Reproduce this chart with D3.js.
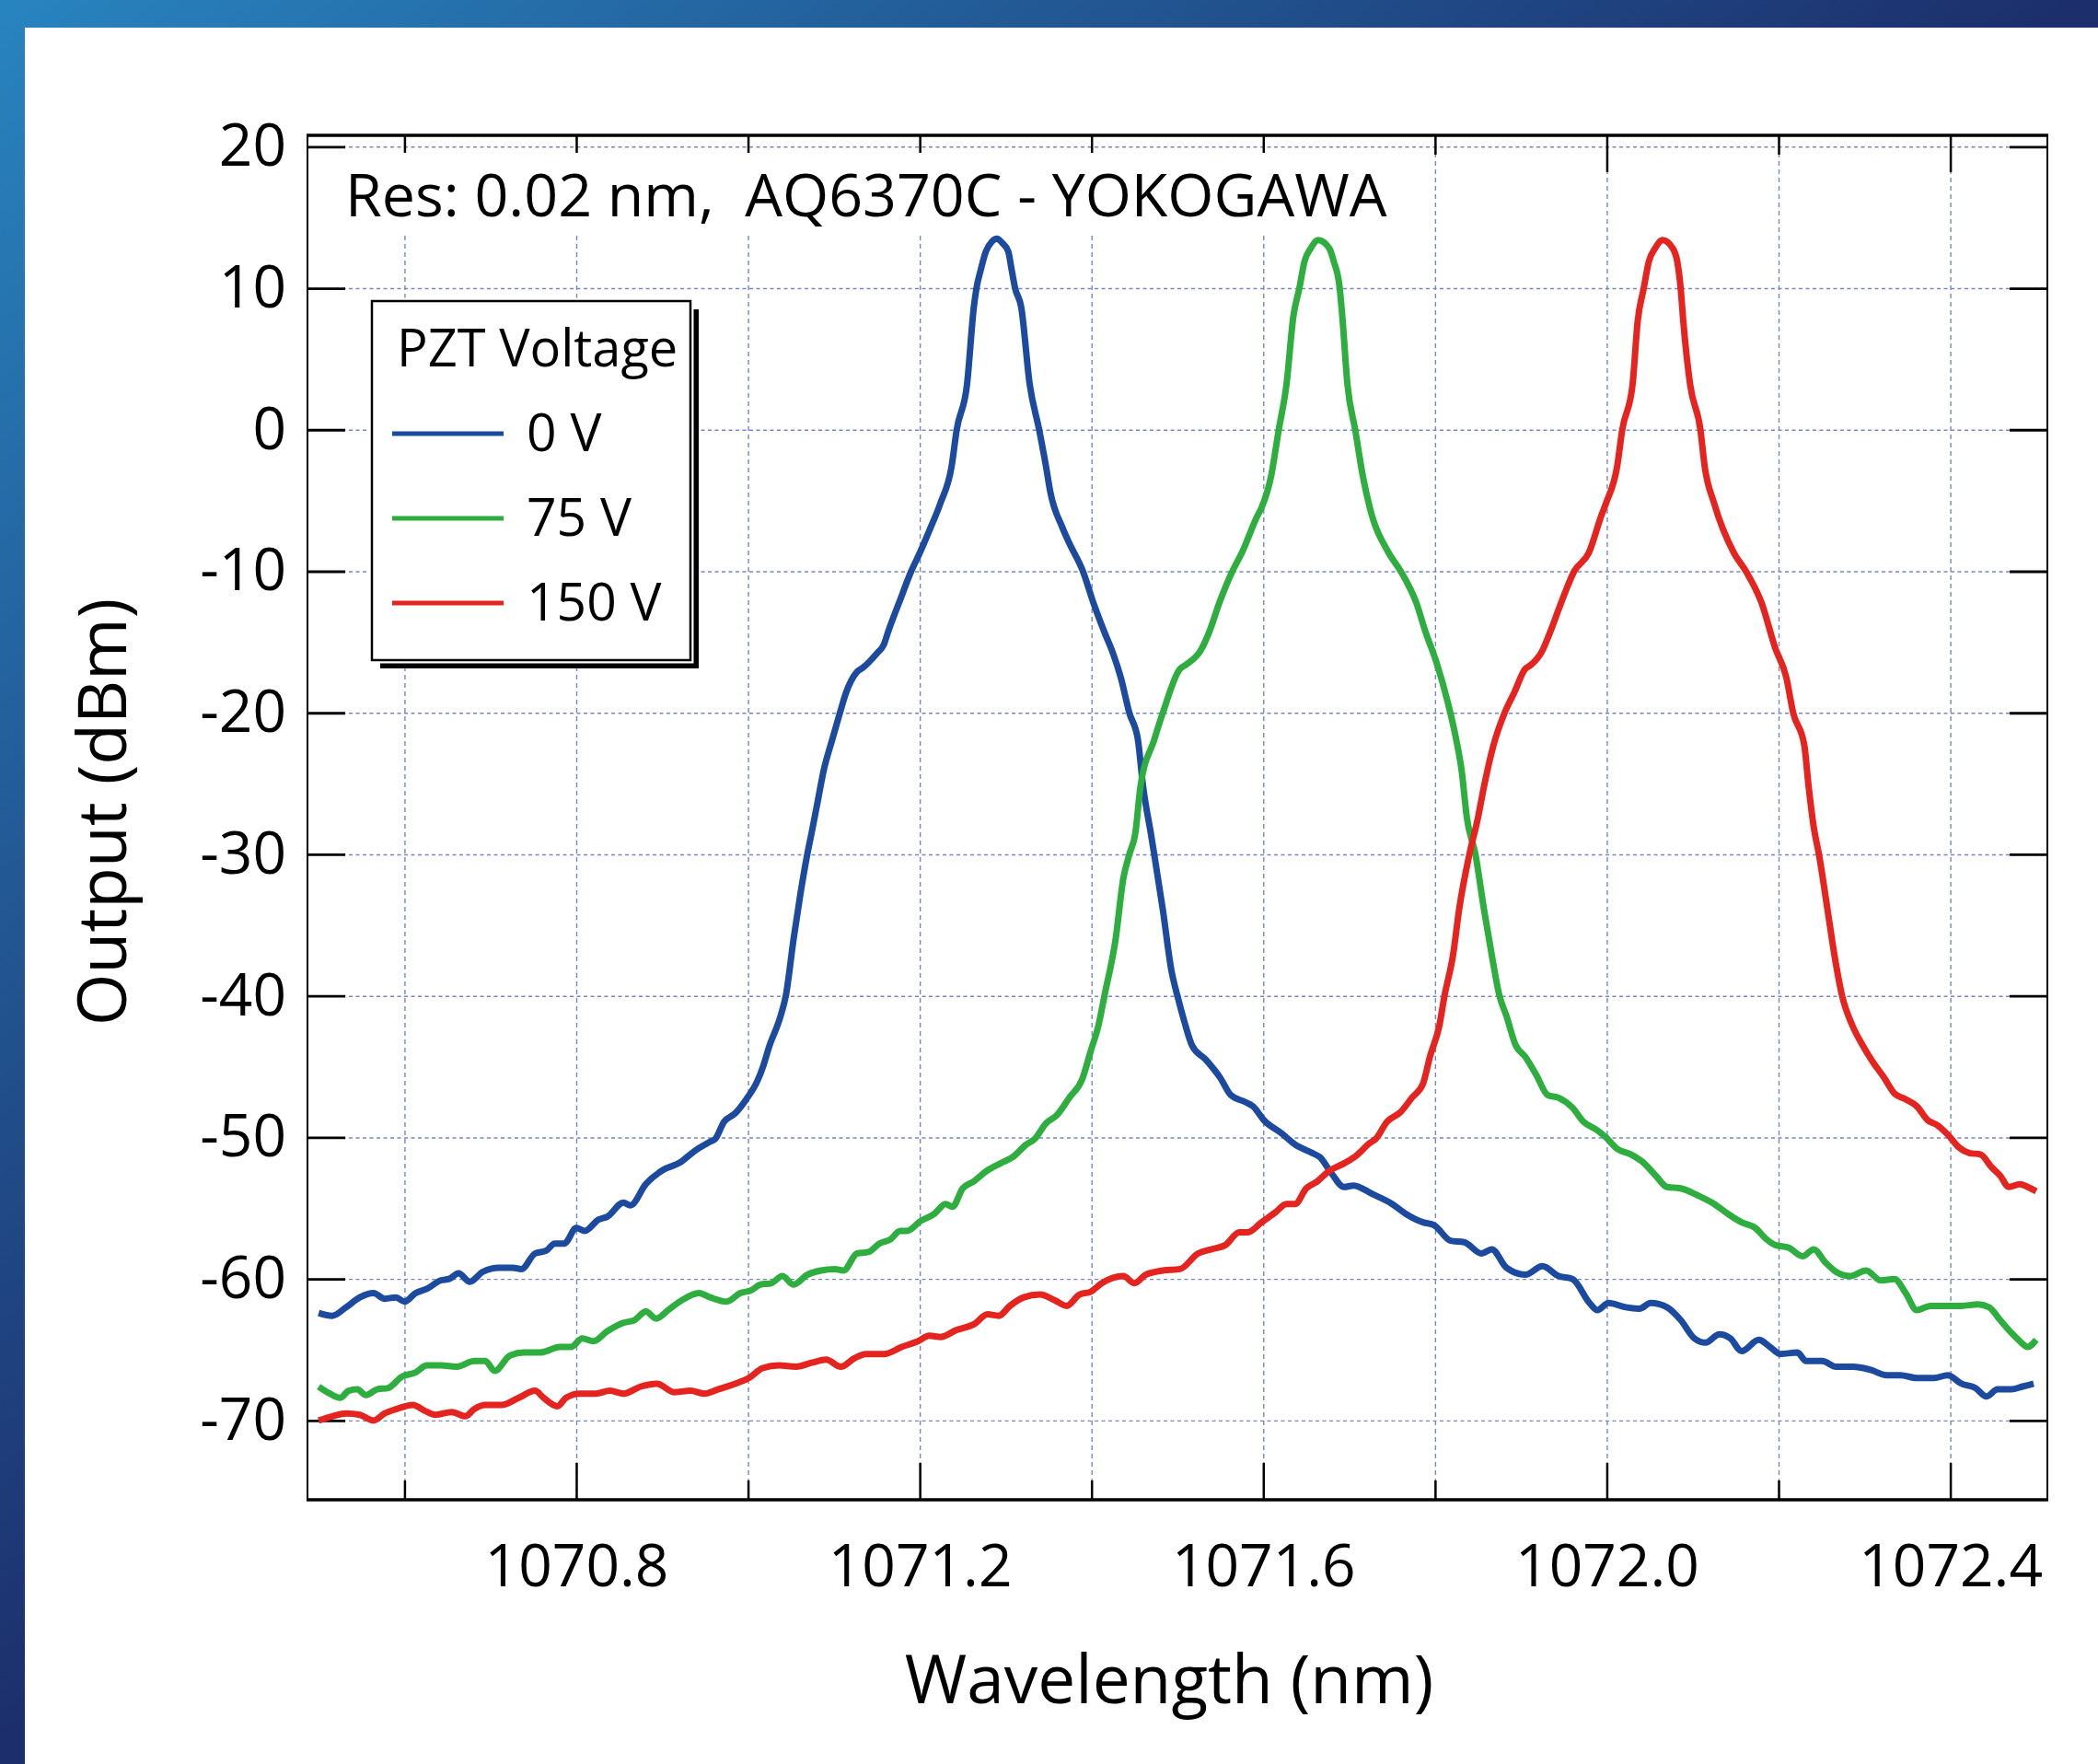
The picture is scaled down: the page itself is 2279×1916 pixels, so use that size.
<!DOCTYPE html>
<html>
<head>
<meta charset="utf-8">
<script src="https://cdn.jsdelivr.net/npm/d3@7"></script>
<style>
  body { margin: 0; background: #fff; }
  text { font-family: "Open Sans", "Noto Sans", sans-serif; fill: #000; }
</style>
</head>
<body>
<script>
// Spectra: wavelength (nm) and output (dBm)
var wl0V = [1070.500,1070.516,1070.532,1070.548,1070.564,1070.577,1070.590,1070.600,1070.613,1070.626,
  1070.642,1070.652,1070.663,1070.676,1070.691,1070.710,1070.726,1070.736,1070.752,1070.765,
  1070.775,1070.786,1070.800,1070.810,1070.826,1070.836,1070.855,1070.863,1070.881,1070.901,
  1070.920,1070.939,1070.956,1070.962,1070.972,1070.985,1070.998,1071.011,1071.018,1071.024,
  1071.038,1071.044,1071.053,1071.061,1071.069,1071.074,1071.081,1071.088,1071.098,1071.107,
  1071.114,1071.127,1071.134,1071.150,1071.158,1071.163,1071.176,1071.190,1071.200,1071.212,
  1071.224,1071.237,1071.243,1071.255,1071.263,1071.266,1071.271,1071.277,1071.284,1071.290,
  1071.296,1071.303,1071.307,1071.311,1071.318,1071.328,1071.339,1071.347,1071.352,1071.366,
  1071.374,1071.390,1071.402,1071.415,1071.425,1071.434,1071.444,1071.454,1071.460,1071.469,
  1071.473,1071.483,1071.493,1071.500,1071.508,1071.517,1071.533,1071.550,1071.562,1071.579,
  1071.588,1071.601,1071.621,1071.637,1071.657,1071.666,1071.679,1071.694,1071.705,1071.727,
  1071.750,1071.766,1071.786,1071.799,1071.818,1071.834,1071.854,1071.866,1071.883,1071.905,
  1071.925,1071.944,1071.960,1071.980,1071.989,1072.002,1072.022,1072.038,1072.051,1072.070,
  1072.086,1072.102,1072.115,1072.131,1072.144,1072.157,1072.177,1072.190,1072.202,1072.222,
  1072.232,1072.251,1072.267,1072.287,1072.306,1072.326,1072.342,1072.361,1072.381,1072.397,
  1072.413,1072.429,1072.442,1072.455,1072.471,1072.484,1072.497];
var dbm0V = [-62.4,-62.6,-62.0,-61.3,-61.0,-61.4,-61.3,-61.6,-61.0,-60.7,
  -60.1,-60.0,-59.6,-60.2,-59.5,-59.2,-59.2,-59.3,-58.2,-58.0,
  -57.5,-57.5,-56.4,-56.6,-55.8,-55.6,-54.6,-54.8,-53.3,-52.3,
  -51.8,-50.9,-50.3,-50.1,-48.9,-48.3,-47.3,-46.0,-44.9,-43.7,
  -41.4,-40.0,-36.0,-32.8,-30.0,-28.5,-26.3,-24.1,-21.9,-20.0,
  -18.6,-17.1,-16.8,-15.8,-15.2,-14.3,-12.2,-10.0,-8.7,-7.0,
  -5.2,-2.6,0.0,3.2,8.7,10.0,11.3,12.6,13.3,13.5,
  13.2,12.6,11.3,10.0,8.7,3.2,0.0,-2.6,-4.4,-6.9,
  -8.0,-10.0,-12.2,-14.3,-15.8,-17.5,-20.0,-21.9,-25.2,-28.5,
  -30.0,-33.9,-38.2,-40.0,-41.8,-43.5,-44.5,-45.8,-47.0,-47.5,
  -47.8,-48.8,-49.7,-50.5,-51.1,-51.4,-52.5,-53.5,-53.4,-54.0,
  -54.7,-55.4,-56.0,-56.2,-57.3,-57.4,-58.2,-57.9,-59.2,-59.7,
  -59.1,-59.8,-60.0,-61.7,-62.2,-61.7,-62.0,-62.1,-61.7,-62.0,
  -62.9,-64.2,-64.5,-63.9,-64.2,-65.1,-64.3,-64.8,-65.3,-65.2,
  -65.8,-65.8,-66.2,-66.2,-66.4,-66.8,-66.8,-67.0,-67.0,-66.8,
  -67.4,-67.7,-68.3,-67.8,-67.8,-67.6,-67.4];

var wl75V = [1070.500,1070.513,1070.525,1070.535,1070.545,1070.555,1070.568,1070.581,1070.597,1070.613,
  1070.626,1070.642,1070.661,1070.681,1070.694,1070.705,1070.723,1070.739,1070.758,1070.781,
  1070.794,1070.807,1070.820,1070.836,1070.855,1070.868,1070.881,1070.893,1070.907,1070.923,
  1070.943,1070.956,1070.975,1070.991,1071.004,1071.014,1071.027,1071.040,1071.053,1071.069,
  1071.085,1071.101,1071.111,1071.127,1071.140,1071.153,1071.166,1071.177,1071.185,1071.201,
  1071.217,1071.230,1071.238,1071.250,1071.263,1071.277,1071.295,1071.308,1071.324,1071.334,
  1071.347,1071.360,1071.374,1071.389,1071.399,1071.408,1071.415,1071.428,1071.437,1071.444,
  1071.451,1071.457,1071.473,1071.483,1071.503,1071.510,1071.527,1071.537,1071.549,1071.564,
  1071.575,1071.593,1071.598,1071.609,1071.618,1071.627,1071.635,1071.642,1071.648,1071.655,
  1071.664,1071.677,1071.682,1071.689,1071.692,1071.698,1071.707,1071.716,1071.724,1071.746,
  1071.760,1071.778,1071.789,1071.802,1071.815,1071.824,1071.831,1071.837,1071.847,1071.857,
  1071.866,1071.875,1071.883,1071.894,1071.905,1071.918,1071.931,1071.944,1071.960,1071.973,
  1071.989,1071.999,1072.012,1072.028,1072.041,1072.057,1072.070,1072.086,1072.106,1072.125,
  1072.141,1072.157,1072.173,1072.186,1072.196,1072.212,1072.228,1072.241,1072.254,1072.267,
  1072.283,1072.302,1072.319,1072.335,1072.348,1072.361,1072.377,1072.393,1072.413,1072.432,
  1072.445,1072.458,1072.471,1072.481,1072.490,1072.500];
var dbm75V = [-67.6,-68.1,-68.4,-67.9,-67.8,-68.2,-67.8,-67.7,-66.9,-66.6,
  -66.1,-66.1,-66.2,-65.8,-65.8,-66.5,-65.4,-65.2,-65.2,-64.8,
  -64.8,-64.2,-64.4,-63.7,-63.1,-62.9,-62.3,-62.8,-62.2,-61.5,
  -61.0,-61.3,-61.6,-61.0,-60.8,-60.4,-60.3,-59.8,-60.4,-59.7,
  -59.4,-59.3,-59.4,-58.2,-58.1,-57.5,-57.2,-56.6,-56.6,-55.9,
  -55.4,-54.7,-54.9,-53.6,-53.1,-52.4,-51.8,-51.4,-50.5,-50.1,
  -49.0,-48.4,-47.2,-45.9,-43.9,-42.1,-40.0,-36.0,-31.7,-30.0,
  -28.5,-25.2,-21.9,-20.0,-16.9,-16.6,-15.6,-14.3,-12.2,-10.0,
  -8.7,-6.1,-5.5,-3.3,0.0,3.2,8.0,10.0,11.9,12.8,
  13.4,12.8,11.9,10.0,8.0,3.2,0.0,-3.3,-5.5,-8.7,
  -10.0,-12.2,-14.3,-16.5,-19.3,-21.7,-24.1,-27.4,-30.0,-33.9,
  -37.1,-40.0,-41.4,-43.5,-44.3,-45.6,-47.0,-47.2,-47.9,-48.9,
  -49.5,-50.0,-50.8,-51.2,-51.7,-52.7,-53.5,-53.6,-54.1,-54.7,
  -55.4,-56.0,-56.4,-57.2,-57.6,-57.8,-58.4,-57.9,-58.8,-59.5,
  -59.8,-59.4,-60.1,-60.0,-61.0,-62.2,-61.9,-61.9,-61.9,-61.8,
  -62.0,-62.9,-63.8,-64.4,-64.8,-64.3];

var wl150V = [1070.500,1070.516,1070.532,1070.548,1070.564,1070.577,1070.590,1070.610,1070.623,1070.636,
  1070.655,1070.671,1070.681,1070.694,1070.713,1070.733,1070.752,1070.762,1070.778,1070.788,
  1070.804,1070.823,1070.839,1070.855,1070.875,1070.894,1070.914,1070.933,1070.949,1070.965,
  1070.985,1071.001,1071.017,1071.036,1071.056,1071.075,1071.091,1071.108,1071.124,1071.137,
  1071.159,1071.179,1071.198,1071.211,1071.224,1071.243,1071.263,1071.279,1071.292,1071.305,
  1071.321,1071.340,1071.357,1071.371,1071.386,1071.399,1071.412,1071.437,1071.450,1071.463,
  1071.483,1071.503,1071.524,1071.540,1071.556,1071.572,1071.582,1071.598,1071.614,1071.627,
  1071.637,1071.650,1071.663,1071.676,1071.695,1071.708,1071.724,1071.731,1071.744,1071.760,
  1071.773,1071.786,1071.794,1071.805,1071.811,1071.821,1071.828,1071.840,1071.850,1071.857,
  1071.868,1071.881,1071.892,1071.905,1071.912,1071.925,1071.934,1071.947,1071.962,1071.979,
  1071.994,1071.999,1072.012,1072.018,1072.030,1072.036,1072.043,1072.049,1072.056,1072.065,
  1072.077,1072.082,1072.086,1072.089,1072.097,1072.109,1072.114,1072.125,1072.148,1072.162,
  1072.180,1072.196,1072.209,1072.217,1072.230,1072.235,1072.241,1072.247,1072.257,1072.265,
  1072.274,1072.286,1072.298,1072.309,1072.322,1072.335,1072.348,1072.361,1072.374,1072.384,
  1072.397,1072.410,1072.422,1072.435,1072.448,1072.458,1072.468,1072.481,1072.490,1072.500];
var dbm150V = [-70.0,-69.7,-69.5,-69.6,-70.0,-69.5,-69.2,-68.9,-69.3,-69.6,
  -69.4,-69.7,-69.2,-68.9,-68.9,-68.4,-67.9,-68.4,-69.0,-68.4,
  -68.1,-68.1,-67.9,-68.1,-67.6,-67.4,-68.0,-67.9,-68.1,-67.8,
  -67.4,-67.0,-66.3,-66.1,-66.2,-65.9,-65.7,-66.2,-65.6,-65.3,
  -65.3,-64.8,-64.4,-64.0,-64.1,-63.6,-63.2,-62.5,-62.6,-61.9,
  -61.3,-61.1,-61.5,-61.9,-61.1,-60.9,-60.3,-59.8,-60.3,-59.7,
  -59.4,-59.3,-58.2,-57.9,-57.6,-56.7,-56.7,-56.0,-55.3,-54.7,
  -54.7,-53.6,-53.1,-52.4,-51.8,-51.3,-50.4,-50.1,-48.9,-48.2,
  -47.2,-46.2,-44.3,-42.1,-40.0,-37.1,-33.9,-30.0,-27.4,-25.2,
  -22.3,-20.0,-18.6,-16.9,-16.6,-15.6,-14.3,-12.2,-10.0,-8.7,
  -6.0,-5.2,-2.6,0.0,3.2,7.7,10.0,11.9,12.8,13.4,
  12.8,11.9,10.0,7.7,3.2,0.0,-2.6,-5.2,-8.7,-10.0,
  -12.2,-15.4,-17.5,-20.0,-22.3,-25.2,-28.1,-30.0,-33.9,-37.1,
  -40.0,-42.1,-43.5,-44.6,-45.7,-46.9,-47.3,-47.8,-48.8,-49.1,
  -49.8,-50.7,-51.1,-51.2,-52.1,-52.7,-53.5,-53.3,-53.5,-53.8];

var seriesLabels = ['0 V', '75 V', '150 V'];
var yTickValues = [20, 10, 0, -10, -20, -30, -40, -50, -60, -70];
var xLabelTicks = [1070.8, 1071.2, 1071.6, 1072.0, 1072.4];
var xMinorTicks = [1070.6, 1071.0, 1071.4, 1071.8, 1072.2];
var xGridValues = [1070.6, 1070.8, 1071.0, 1071.2, 1071.4, 1071.6, 1071.8, 1072.0, 1072.2, 1072.4];

var colors = ['#1b4a9e', '#2eae3e', '#e5241f'];
var width = 2279, height = 1916;
var plot = { left: 334, right: 2224, top: 147, bottom: 1629 };

var svg = d3.select('body')
  .append('svg')
  .attr('width', width)
  .attr('height', height);

// blue edge band (top and left)
var grad = svg.append('defs').append('linearGradient')
  .attr('id', 'edge')
  .attr('x1', 0).attr('y1', 0).attr('x2', 0.5).attr('y2', 0.5);
grad.append('stop').attr('offset', '0%').attr('stop-color', '#2884bf');
grad.append('stop').attr('offset', '100%').attr('stop-color', '#1c2e6b');
svg.append('rect').attr('width', width).attr('height', height).attr('fill', 'url(#edge)');
svg.append('rect').attr('x', 27).attr('y', 30)
  .attr('width', width - 27).attr('height', height - 30).attr('fill', '#fff');

var x = d3.scaleLinear().domain([1070.487, 1072.513]).range([plot.left, plot.right]);
var y = d3.scaleLinear().domain([-75.6, 20.8]).range([plot.bottom, plot.top]);

// grid
svg.append('g')
  .attr('transform', 'translate(0,' + plot.bottom + ')')
  .call(d3.axisBottom(x).tickValues(xGridValues).tickSize(-(plot.bottom - plot.top)).tickFormat(''))
  .call(function(g) { g.select('.domain').remove(); })
  .selectAll('line')
  .attr('stroke', '#7886c9')
  .attr('stroke-width', 1.4)
  .attr('stroke-dasharray', '5,4');

svg.append('g')
  .attr('transform', 'translate(' + plot.left + ',0)')
  .call(d3.axisLeft(y).tickValues(yTickValues).tickSize(-(plot.right - plot.left)).tickFormat(''))
  .call(function(g) { g.select('.domain').remove(); })
  .selectAll('line')
  .attr('stroke', '#7886c9')
  .attr('stroke-width', 1.4)
  .attr('stroke-dasharray', '4,3.5');

// tick marks and labels
function tickGroup(axis, tx, ty, w) {
  var g = svg.append('g')
    .attr('transform', 'translate(' + tx + ',' + ty + ')')
    .call(axis);
  g.select('.domain').remove();
  g.selectAll('line').attr('stroke', '#000').attr('stroke-width', w);
  g.selectAll('text').attr('font-size', 64).attr('font-family', '"Open Sans", sans-serif').attr('fill', '#000');
  return g;
}

tickGroup(d3.axisBottom(x).tickValues(xLabelTicks).tickSizeInner(-40).tickSizeOuter(0)
  .tickPadding(49).tickFormat(d3.format('.1f')), 0, plot.bottom, 2.5);
tickGroup(d3.axisBottom(x).tickValues(xMinorTicks).tickSizeInner(-21).tickSizeOuter(0)
  .tickFormat(''), 0, plot.bottom, 2.5);
tickGroup(d3.axisTop(x).tickValues(xLabelTicks).tickSizeInner(-40).tickSizeOuter(0)
  .tickFormat(''), 0, plot.top, 2.5);
tickGroup(d3.axisTop(x).tickValues(xMinorTicks).tickSizeInner(-21).tickSizeOuter(0)
  .tickFormat(''), 0, plot.top, 2.5);
tickGroup(d3.axisLeft(y).tickValues(yTickValues).tickSizeInner(-41).tickSizeOuter(0)
  .tickPadding(23).tickFormat(function(d) { return String(d); }), plot.left, 0, 2.8);
tickGroup(d3.axisRight(y).tickValues(yTickValues).tickSizeInner(-41).tickSizeOuter(0)
  .tickFormat(''), plot.right, 0, 2.8);

// frame: heavier top and bottom
svg.append('line').attr('x1', plot.left).attr('x2', plot.left)
  .attr('y1', plot.top).attr('y2', plot.bottom).attr('stroke', '#000').attr('stroke-width', 2);
svg.append('line').attr('x1', plot.right).attr('x2', plot.right)
  .attr('y1', plot.top).attr('y2', plot.bottom).attr('stroke', '#000').attr('stroke-width', 2);
svg.append('line').attr('x1', plot.left - 1).attr('x2', plot.right + 1)
  .attr('y1', plot.top).attr('y2', plot.top).attr('stroke', '#000').attr('stroke-width', 3.5);
svg.append('line').attr('x1', plot.left - 1).attr('x2', plot.right + 1)
  .attr('y1', plot.bottom).attr('y2', plot.bottom).attr('stroke', '#000').attr('stroke-width', 3.5);

// annotation box covers the grid under the text
svg.append('rect').attr('x', 337).attr('y', 166).attr('width', 1190).attr('height', 89).attr('fill', '#fff');
svg.append('text')
  .attr('x', 375).attr('y', 235)
  .attr('font-size', 64.5)
  .style('white-space', 'pre')
  .text('Res: 0.02 nm,  AQ6370C - YOKOGAWA');

// curves
var series = [
  d3.zip(wl0V, dbm0V),
  d3.zip(wl75V, dbm75V),
  d3.zip(wl150V, dbm150V)
];
var line = d3.line()
  .curve(d3.curveMonotoneX)
  .x(function(d) { return x(d[0]); })
  .y(function(d) { return y(d[1]); });

svg.selectAll('path.curve')
  .data(series)
  .enter().append('path')
  .attr('class', 'curve')
  .attr('d', line)
  .attr('fill', 'none')
  .attr('stroke', function(d, i) { return colors[i]; })
  .attr('stroke-width', 7)
  .attr('stroke-linejoin', 'round');

// legend with drop shadow
var lg = { x: 404, y: 327, w: 346, h: 390 };
svg.append('rect').attr('x', lg.x + 9).attr('y', lg.y + 9).attr('width', lg.w).attr('height', lg.h).attr('fill', '#000');
svg.append('rect').attr('x', lg.x).attr('y', lg.y).attr('width', lg.w).attr('height', lg.h)
  .attr('fill', '#fff').attr('stroke', '#fff').attr('stroke-width', 7);
svg.append('rect').attr('x', lg.x).attr('y', lg.y).attr('width', lg.w).attr('height', lg.h)
  .attr('fill', '#fff').attr('stroke', '#000').attr('stroke-width', 2.5);

svg.append('text').attr('x', 431).attr('y', 398).attr('font-size', 56).text('PZT Voltage');

svg.selectAll('line.key')
  .data(seriesLabels)
  .enter().append('line')
  .attr('class', 'key')
  .attr('x1', 426).attr('x2', 547)
  .attr('y1', function(d, i) { return 471 + i * 92; })
  .attr('y2', function(d, i) { return 471 + i * 92; })
  .attr('stroke', function(d, i) { return colors[i]; })
  .attr('stroke-width', 5);

svg.selectAll('text.key')
  .data(seriesLabels)
  .enter().append('text')
  .attr('class', 'key')
  .attr('x', 572)
  .attr('y', function(d, i) { return 490 + i * 92; })
  .attr('font-size', 57)
  .text(function(d) { return d; });

// axis titles
svg.append('text')
  .attr('x', 1270).attr('y', 1850)
  .attr('text-anchor', 'middle')
  .attr('font-size', 73)
  .text('Wavelength (nm)');

svg.append('text')
  .attr('transform', 'translate(137,882) rotate(-90)')
  .attr('text-anchor', 'middle')
  .attr('font-size', 73)
  .text('Output (dBm)');
</script>
</body>
</html>
